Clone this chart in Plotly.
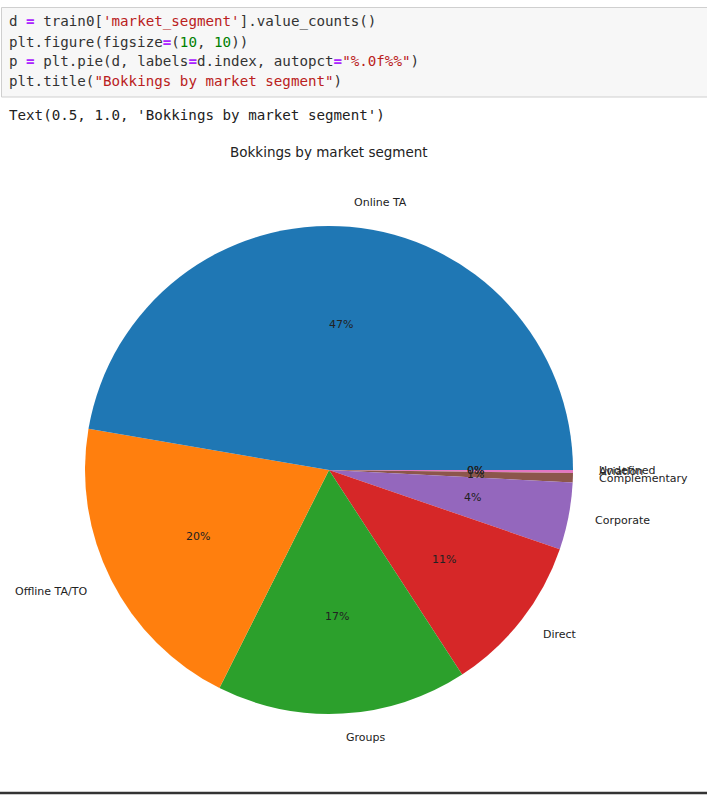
import math
import plotly.graph_objects as go

# ---- data ----
segments = ["Online TA", "Offline TA/TO", "Groups", "Direct", "Corporate",
            "Complementary", "Aviation", "Undefined"]
counts = [56477, 24219, 19811, 12606, 5295, 743, 237, 2]
colors = ["#1f77b4", "#ff7f0e", "#2ca02c", "#d62728", "#9467bd",
          "#8c564b", "#e377c2", "#7f7f7f"]
title_text = "Bokkings by market segment"

W, H = 707, 795
CX, CY, R = 329, 470, 244  # pie centre / radius in pixels

# matplotlib draws counterclockwise from 3 o'clock; equivalently clockwise from
# 3 o'clock with the order reversed
fig = go.Figure()
fig.add_trace(go.Pie(
    labels=segments[::-1], values=counts[::-1], sort=False, direction="clockwise",
    rotation=90, marker=dict(colors=colors[::-1], line=dict(width=0)),
    textinfo="none", hoverinfo="label+percent", showlegend=False,
    domain=dict(x=[(CX - R) / W, (CX + R) / W], y=[1 - (CY + R) / H, 1 - (CY - R) / H]),
))

annotations = []
total = sum(counts)
start = 0.0
lab_font = dict(family="DejaVu Sans", size=11, color="#222")
for name, v in zip(segments, counts):
    frac = v / total
    mid = math.radians(start + frac * 360 / 2)
    start += frac * 360
    c, s = math.cos(mid), math.sin(mid)
    lx, ly = CX + 1.1 * R * c, CY - 1.1 * R * s
    annotations.append(dict(x=lx / W, y=1 - ly / H, xref="paper", yref="paper",
                            text=name, showarrow=False, font=lab_font,
                            xanchor="left" if c > 0 else "right", yanchor="middle"))
    px, py = CX + 0.6 * R * c, CY - 0.6 * R * s
    annotations.append(dict(x=px / W, y=1 - py / H, xref="paper", yref="paper",
                            text=f"{round(frac * 100):.0f}%", showarrow=False, font=lab_font,
                            xanchor="center", yanchor="middle"))

# title
annotations.append(dict(x=CX / W, y=1 - 152 / H, xref="paper", yref="paper", text=title_text,
                        showarrow=False, font=dict(family="DejaVu Sans", size=13.5, color="#222"),
                        xanchor="center", yanchor="middle"))

# notebook code cell text
P = '<span style="color:#aa22ff"><b>=</b></span>'
def red(t):
    return f'<span style="color:#ba2121">{t}</span>'
def grn(t):
    return f'<span style="color:#008000">{t}</span>'
code_lines = [
    f"d {P} train0[{red(chr(39) + 'market_segment' + chr(39))}].value_counts()",
    f"plt.figure(figsize{P}({grn('10')}, {grn('10')}))",
    f"p {P} plt.pie(d, labels{P}d.index, autopct{P}{red(chr(34) + '%.0f%%' + chr(34))})",
    f"plt.title({red(chr(34) + title_text + chr(34))})",
]
mono = dict(family="DejaVu Sans Mono", size=14.2, color="#333")
for i, line in enumerate(code_lines):
    annotations.append(dict(x=7 / W, y=1 - (22 + i * 19.7) / H, xref="paper", yref="paper",
                            text=line, showarrow=False, font=mono, xanchor="left",
                            yanchor="middle", align="left"))
annotations.append(dict(x=7 / W, y=1 - 115 / H, xref="paper", yref="paper",
                        text=f"Text(0.5, 1.0, '{title_text}')", showarrow=False,
                        font=dict(family="DejaVu Sans Mono", size=14.2, color="#222"),
                        xanchor="left", yanchor="middle"))

shapes = [
    dict(type="rect", xref="paper", yref="paper", x0=1.5 / W, x1=1.2, y0=1 - 97 / H, y1=1 - 7.5 / H,
         fillcolor="#f7f7f7", line=dict(color="#cfcfcf", width=1), layer="below"),
    dict(type="line", xref="paper", yref="paper", x0=0, x1=1, y0=1 - 793 / H, y1=1 - 793 / H,
         line=dict(color="#333", width=2.5)),
]

fig.update_layout(width=W, height=H, margin=dict(l=0, r=0, t=0, b=0),
                  paper_bgcolor="white", plot_bgcolor="white",
                  annotations=annotations, shapes=shapes)
fig.write_html("out.html")
